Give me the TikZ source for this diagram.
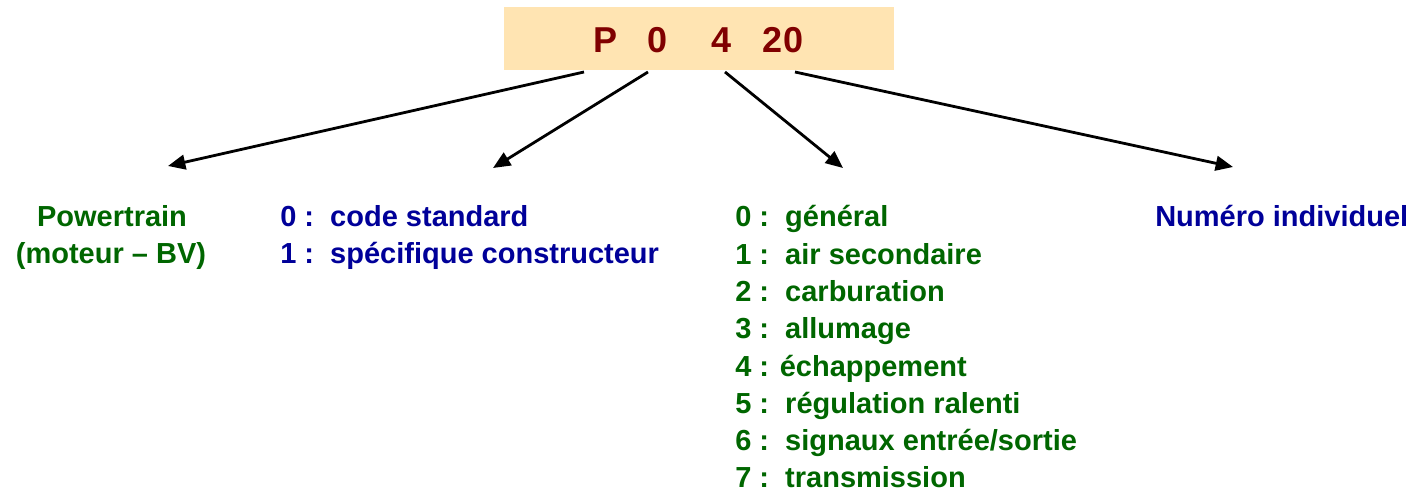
\documentclass[tikz,border=0pt]{standalone}
\usepackage{fontspec}
\setmainfont{Liberation Sans}
\usetikzlibrary{arrows.meta}
\definecolor{boxfill}{HTML}{FFE4B2}
\definecolor{darkred}{HTML}{800000}
\definecolor{dgreen}{HTML}{006600}
\definecolor{navyb}{HTML}{000099}
\begin{document}
\begin{tikzpicture}[x=0.75pt,y=-0.75pt,
  codetxt/.style={inner sep=0pt,anchor=base,text=darkred,font=\fontsize{27}{32}\selectfont\bfseries},
  greentxt/.style={inner sep=0pt,text=dgreen,font=\fontsize{21.75}{28}\selectfont\bfseries},
  bluetxt/.style={inner sep=0pt,text=navyb,font=\fontsize{21.75}{28}\selectfont\bfseries},
  arr/.style={line width=2.1pt,-{Triangle[length=13pt,width=11pt]}}]
\useasboundingbox (0,0) rectangle (1415,502);
% code box
\node[fill=boxfill,minimum width=390*0.75pt,minimum height=63*0.75pt,inner sep=0pt,anchor=north west] (code) at (504,7) {};
\node[codetxt] (cP) at (606,53) {P};
\node[codetxt] (c0) at (658,53) {0};
\node[codetxt] (c4) at (721.5,53) {4};
\node[codetxt] (c20) at (783,53) {20};
% arrow start / end coordinates
\coordinate (s1) at (584,72);
\coordinate (s2) at (648,72);
\coordinate (s3) at (725,72);
\coordinate (s4) at (795,72);
\coordinate (e1) at (168,166);
\coordinate (e2) at (493,168);
\coordinate (e3) at (843,168);
\coordinate (e4) at (1233,167);
\draw[arr] (s1) -- (e1);
\draw[arr] (s2) -- (e2);
\draw[arr] (s3) -- (e3);
\draw[arr] (s4) -- (e4);
% texts
\node[greentxt,anchor=base] (pt1) at (112,227) {Powertrain};
\node[greentxt,anchor=base] (pt2) at (111,264) {(moteur – BV)};
\node[bluetxt,anchor=base west] (b0) at (280,227) {\makebox[37.5pt][l]{0 :}code standard};
\node[bluetxt,anchor=base west] (b1) at (280,264) {\makebox[37.5pt][l]{1 :}spécifique constructeur};
\node[greentxt,anchor=base west] (g0) at (735,227) {\makebox[37.5pt][l]{0 :}général};
\node[greentxt,anchor=base west] (g1) at (735,264.3) {\makebox[37.5pt][l]{1 :}air secondaire};
\node[greentxt,anchor=base west] (g2) at (735,301.6) {\makebox[37.5pt][l]{2 :}carburation};
\node[greentxt,anchor=base west] (g3) at (735,338.9) {\makebox[37.5pt][l]{3 :}allumage};
\node[greentxt,anchor=base west] (g4) at (735,376.2) {4 : échappement};
\node[greentxt,anchor=base west] (g5) at (735,413.5) {\makebox[37.5pt][l]{5 :}régulation ralenti};
\node[greentxt,anchor=base west] (g6) at (735,450.8) {\makebox[37.5pt][l]{6 :}signaux entrée/sortie};
\node[greentxt,anchor=base west] (g7) at (735,488) {\makebox[37.5pt][l]{7 :}transmission};
\node[bluetxt,anchor=base west] (num) at (1155,227) {Numéro individuel};
\end{tikzpicture}
\end{document}
